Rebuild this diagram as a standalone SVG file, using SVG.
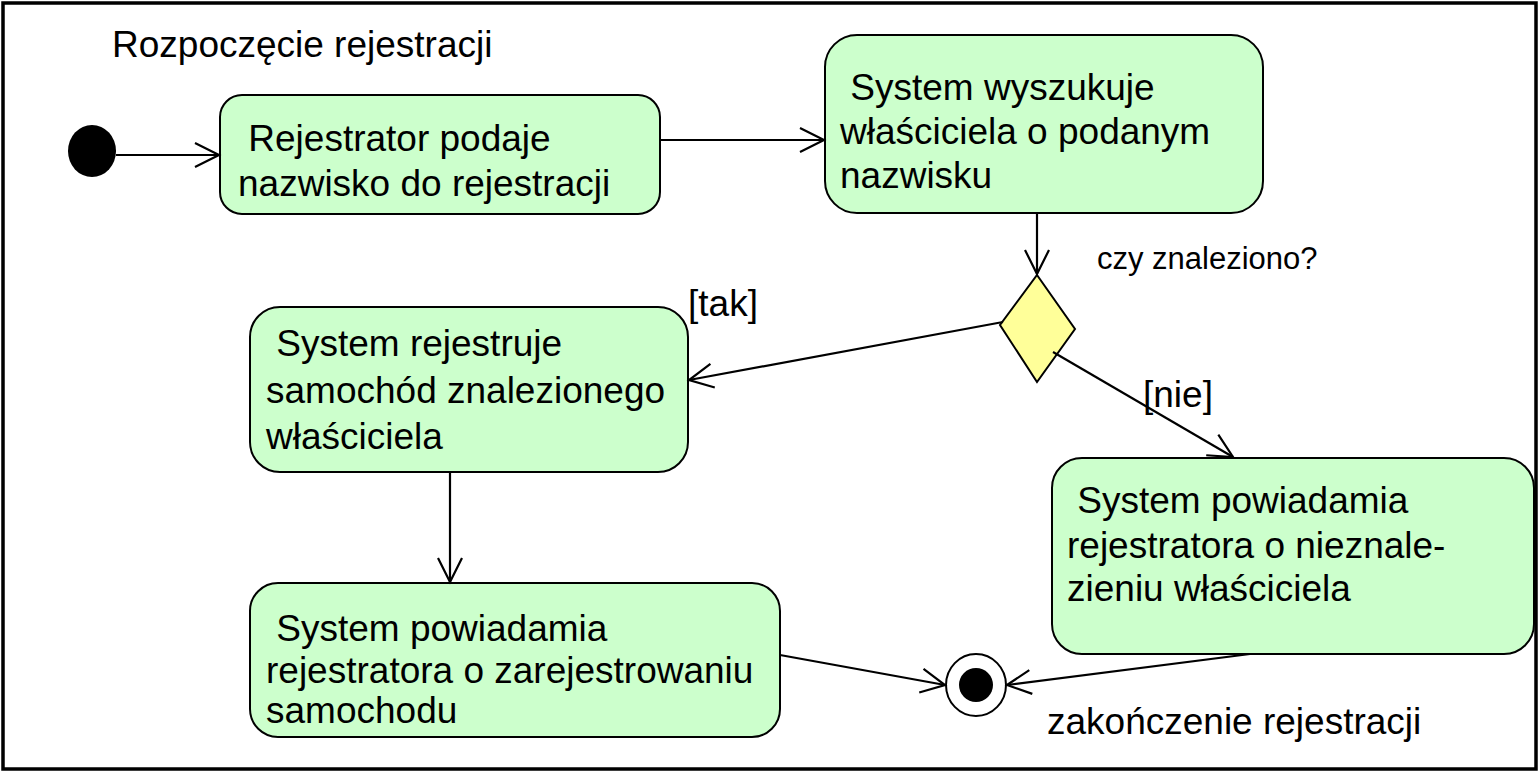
<svg xmlns="http://www.w3.org/2000/svg" width="1540" height="772" viewBox="0 0 1540 772">
  <style>
    .frame { fill: #ffffff; stroke: #000000; stroke-width: 3.5; }
    .act { fill: #ccffcc; stroke: #000000; stroke-width: 2; }
    .dec { fill: #ffff99; stroke: #000000; stroke-width: 2; }
    .edge { fill: none; stroke: #000000; stroke-width: 2.2; }
    text { font-family: "Liberation Sans", Arial, sans-serif; font-size: 37px; fill: #000000; }
    .small { font-size: 31px; }
  </style>
  <defs>
    <marker id="open" markerUnits="userSpaceOnUse" markerWidth="30" markerHeight="30" viewBox="0 0 30 30" refX="27" refY="15" orient="auto">
      <path d="M3,3 L27,15 L3,27" fill="none" stroke="#000000" stroke-width="2.2"/>
    </marker>
  </defs>

  <rect class="frame" x="3" y="3" width="1533" height="766"/>

  <text id="start-label" x="112" y="57">Rozpoczęcie rejestracji</text>

  <g id="start">
    <ellipse cx="92" cy="151" rx="24" ry="26" fill="#000000"/>
  </g>

  <g id="a1">
    <rect class="act" x="220" y="95" width="440" height="119" rx="22"/>
    <text x="238" y="151" xml:space="preserve"> Rejestrator podaje</text>
    <text x="238" y="196">nazwisko do rejestracji</text>
  </g>

  <g id="a2">
    <rect class="act" x="825" y="35" width="438" height="178" rx="32"/>
    <text x="840" y="100" xml:space="preserve"> System wyszukuje</text>
    <text x="840" y="144">właściciela o podanym</text>
    <text x="840" y="188">nazwisku</text>
  </g>

  <g id="decision">
    <polygon class="dec" points="1037,275 1075,329 1037,382 1000,325"/>
    <text class="small" x="1097" y="269">czy znaleziono?</text>
  </g>

  <g id="a3">
    <rect class="act" x="250" y="307" width="438" height="165" rx="30"/>
    <text x="266" y="356" xml:space="preserve"> System rejestruje</text>
    <text x="266" y="403">samochód znalezionego</text>
    <text x="266" y="449">właściciela</text>
  </g>

  <g id="a4">
    <rect class="act" x="250" y="583" width="530" height="154" rx="28"/>
    <text x="266" y="641" xml:space="preserve"> System powiadamia</text>
    <text x="266" y="683">rejestratora o zarejestrowaniu</text>
    <text x="266" y="723">samochodu</text>
  </g>

  <g id="a5">
    <rect class="act" x="1052" y="458" width="482" height="196" rx="30"/>
    <text x="1067" y="513" xml:space="preserve"> System powiadamia</text>
    <text x="1067" y="558">rejestratora o nieznale-</text>
    <text x="1067" y="601">zieniu właściciela</text>
  </g>

  <g id="end">
    <ellipse cx="976" cy="685" rx="30" ry="31" fill="#ffffff" stroke="#000000" stroke-width="2"/>
    <circle cx="976" cy="685" r="17" fill="#000000"/>
    <text x="1047" y="734">zakończenie rejestracji</text>
  </g>

  <g id="connectors">
    <line class="edge" x1="116" y1="155" x2="219" y2="155" marker-end="url(#open)"/>
    <line class="edge" x1="660" y1="140" x2="824" y2="140" marker-end="url(#open)"/>
    <line class="edge" x1="1037" y1="213" x2="1037" y2="274" marker-end="url(#open)"/>
    <line class="edge" x1="1003" y1="322" x2="689" y2="380" marker-end="url(#open)"/>
    <text x="688" y="316">[tak]</text>
    <line class="edge" x1="1053" y1="352" x2="1233" y2="457" marker-end="url(#open)"/>
    <text x="1143" y="407">[nie]</text>
    <line class="edge" x1="450" y1="472" x2="450" y2="582" marker-end="url(#open)"/>
    <line class="edge" x1="780" y1="655" x2="945" y2="685" marker-end="url(#open)"/>
    <line class="edge" x1="1250" y1="654" x2="1007" y2="685" marker-end="url(#open)"/>
  </g>
</svg>
